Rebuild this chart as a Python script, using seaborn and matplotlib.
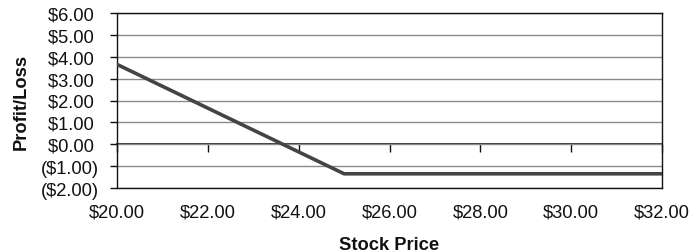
import matplotlib
matplotlib.use("Agg")
import matplotlib.pyplot as plt
import seaborn as sns
import pandas as pd

stock_price = [20, 21, 22, 23, 24, 25, 26, 27, 28, 29, 30, 31, 32]
profit_loss = [3.65, 2.65, 1.65, 0.65, -0.35, -1.35, -1.35, -1.35, -1.35, -1.35, -1.35, -1.35, -1.35]
x_ticks = [20, 22, 24, 26, 28, 30, 32]
y_ticks = [-2, -1, 0, 1, 2, 3, 4, 5, 6]


def money(v, pad=False):
    if v < 0:
        return f"(${abs(v):.2f})"
    return f"${v:.2f}" + ("\u2008" if pad else "")


sns.set_theme(style="white")
plt.rcParams['font.family'] = ['Liberation Sans', 'DejaVu Sans']

df = pd.DataFrame({"Stock Price": stock_price, "Profit/Loss": profit_loss})

fig = plt.figure(figsize=(6.89, 2.53), dpi=100)
ax = fig.add_axes([117 / 689, 1 - 189 / 253, (662 - 117) / 689, (189 - 14) / 253])

for y in y_ticks:
    ax.axhline(y, color="#8a8a8a", lw=1.0, zorder=1)

sns.lineplot(data=df, x="Stock Price", y="Profit/Loss", color="#444444", lw=2.6, ax=ax, zorder=3)

fs = 13.2
ax.set_xlim(20, 32)
ax.set_ylim(-2, 6)
ax.set_xticks(x_ticks)
ax.set_xticklabels([money(v) for v in x_ticks], fontsize=fs)
ax.set_yticks(y_ticks)
ax.set_yticklabels([money(v, pad=True) for v in y_ticks], fontsize=fs)
ax.tick_params(axis="x", length=0, pad=11, colors="#111111")
ax.tick_params(axis="y", length=5, width=1, direction="out", pad=8, color="#111111", labelcolor="#111111", left=True)

for s in ax.spines.values():
    s.set_color("#111111")
    s.set_linewidth(1.0)

# category axis crossing at zero, with outward tick marks
sec = ax.secondary_xaxis(0.25)
sec.set_xticks(x_ticks)
sec.tick_params(axis="x", length=6, width=1, direction="out", color="#111111", labelbottom=False)
sec.spines["bottom"].set_color("#111111")
sec.spines["bottom"].set_linewidth(1.2)

ax.set_xlabel("Stock Price", fontsize=fs, fontweight="bold", labelpad=11, color="#111111")
ax.set_ylabel("Profit/Loss", fontsize=fs, fontweight="bold", labelpad=8, color="#111111")

fig.savefig("out.png", dpi=100)
